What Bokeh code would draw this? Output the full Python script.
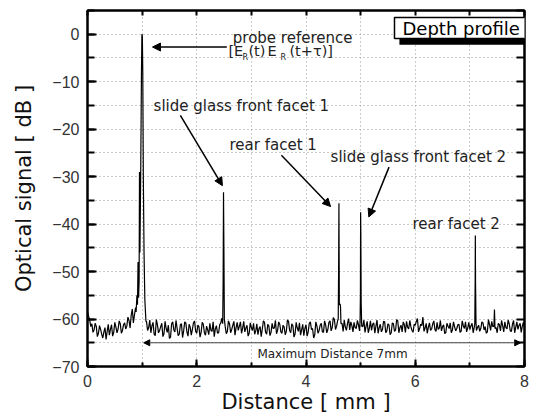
from bokeh.plotting import figure
from bokeh.models import (ColumnDataSource, Range1d, LinearAxis, SingleIntervalTicker,
                          Arrow, NormalHead, Label, CustomJSTickFormatter)
from bokeh.core.properties import value
from bokeh.embed import file_html
from bokeh.resources import INLINE

# ---------------- data ----------------
x_start, x_end = 0.0, 8.0
# baseline signal sampled every 0.04 mm from 0 to 8 mm (dB)
noise_db = [
    -58.5, -60.2, -61.0, -62.3, -61.5, -63.0, -62.2, -64.0, -61.8, -62.6,
    -63.4, -61.2, -62.8, -61.7, -62.1, -61.0, -62.4, -60.8, -61.5, -60.3,
    -59.2, -60.8, -57.6, -58.0, -59.0, -60.0, -61.0, -60.5, -61.8, -62.9,
    -60.7, -63.5, -61.2, -62.4, -60.9, -63.1, -62.0, -61.3, -63.8, -60.6,
    -62.7, -61.9, -63.2, -61.0, -62.5, -60.8, -63.6, -61.7, -62.2, -60.4,
    -63.0, -61.6, -62.8, -61.1, -63.4, -62.3, -60.9, -62.6, -63.7, -61.4,
    -62.9, -60.8, -60.2, -61.5, -62.6, -61.0, -62.2, -60.5, -61.8, -62.4,
    -60.6, -61.9, -62.7, -61.3, -63.0, -61.8, -60.9, -62.5, -63.3, -61.6,
    -62.1, -60.7, -63.2, -61.5, -62.8, -62.0, -60.3, -62.4, -61.1, -63.0,
    -61.7, -62.6, -60.5, -62.9, -61.4, -63.1, -61.9, -60.8, -62.3, -63.5,
    -61.2, -62.7, -60.6, -62.0, -63.3, -61.5, -62.4, -60.9, -62.8, -61.3,
    -62.2, -60.4, -61.8, -60.1, -61.5, -59.8, -61.0, -62.6, -61.7, -60.9,
    -62.3, -61.4, -60.7, -62.0, -61.2, -59.9, -61.6, -62.8, -60.5, -61.9,
    -62.4, -60.8, -61.5, -63.0, -61.1, -62.2, -60.6, -62.5, -61.3, -62.9,
    -61.0, -62.3, -60.4, -61.8, -62.7, -61.2, -60.5, -62.1, -61.6, -62.8,
    -61.3, -59.9, -62.0, -61.4, -62.6, -60.9, -61.7, -62.4, -61.0, -62.2,
    -60.7, -61.9, -62.5, -61.2, -62.8, -61.5, -60.8, -62.3, -61.6, -62.0,
    -61.1, -62.6, -61.4, -60.6, -61.9, -62.2, -60.9, -61.7, -62.4, -61.3,
    -62.0, -60.8, -61.6, -62.7, -61.2, -60.5, -62.3, -61.8, -60.9, -62.5,
    -61.4, -60.6, -62.1, -61.0, -62.6, -60.3, -61.7, -62.2, -60.9, -61.5,
    -61.8,
]
# baseline signal at the mid points (0.02 mm + k * 0.04 mm) (dB)
noise_db_mid = [
    -59.4, -61.6, -62.8, -60.9, -63.7, -61.4, -63.2, -62.7, -64.3, -61.1,
    -62.2, -63.6, -60.7, -62.9, -60.4, -63.0, -61.2, -62.1, -59.6, -61.9,
    -57.9, -59.1, -56.5, -57.0, -58.0, -59.0, -60.0, -62.4, -60.2, -61.4,
    -63.2, -60.1, -62.9, -61.6, -63.7, -60.5, -62.8, -64.1, -61.0, -62.3,
    -60.3, -63.5, -61.2, -63.9, -60.6, -62.7, -61.1, -63.4, -60.8, -62.6,
    -61.3, -63.8, -60.7, -62.9, -61.5, -63.3, -62.4, -60.6, -62.1, -63.0,
    -61.2, -59.8, -61.0, -63.1, -60.4, -62.9, -61.3, -63.4, -60.7, -61.5,
    -63.0, -60.5, -61.9, -63.6, -60.8, -62.4, -63.2, -61.0, -62.0, -63.7,
    -60.4, -62.8, -61.1, -63.5, -60.9, -61.9, -63.1, -60.6, -62.7, -61.3,
    -63.3, -60.2, -62.4, -61.0, -63.8, -60.7, -62.6, -63.4, -61.1, -62.0,
    -63.6, -60.9, -62.2, -64.0, -60.6, -63.0, -61.3, -62.7, -60.4, -62.9,
    -60.7, -62.5, -59.7, -62.2, -60.3, -62.8, -60.9, -60.2, -62.4, -59.9,
    -60.6, -62.7, -61.8, -60.3, -62.5, -61.0, -60.2, -61.5, -62.9, -60.4,
    -61.1, -63.0, -60.2, -61.8, -62.7, -60.5, -62.9, -61.0, -63.3, -60.8,
    -62.6, -60.1, -62.9, -61.3, -60.6, -62.8, -61.7, -60.3, -62.4, -61.1,
    -60.5, -62.7, -61.1, -59.6, -61.9, -63.0, -60.8, -62.1, -60.4, -62.6,
    -62.2, -60.3, -61.6, -63.1, -60.9, -62.0, -62.9, -60.6, -62.5, -61.2,
    -62.8, -60.4, -62.0, -62.7, -60.7, -61.4, -62.9, -60.5, -61.8, -62.6,
    -60.6, -62.3, -63.0, -60.1, -62.4, -61.6, -60.4, -62.9, -61.2, -60.3,
    -62.7, -61.8, -60.2, -62.5, -61.1, -62.9, -60.6, -61.3, -62.8, -60.7,
]
# reflection peaks (distance mm, dB)
peak_ref_x = [0.89, 0.905, 0.915, 0.925, 0.935, 0.945, 0.952, 0.96, 0.975, 0.988,
              0.996, 1.004, 1.012, 1.022, 1.035, 1.05, 1.07]
peak_ref_y = [-58.5, -55.0, -57.0, -48.0, -55.5, -52.0, -29.0, -46.0, -28.0, -8.0,
              0.0, -0.4, -8.0, -30.0, -46.0, -56.0, -60.5]
peak_front1_x = [2.475, 2.483, 2.49, 2.497, 2.505]
peak_front1_y = [-61.0, -52.0, -33.3, -45.0, -60.0]
peak_rear1_x = [4.59, 4.597, 4.603, 4.61, 4.625, 4.632, 4.64]
peak_rear1_y = [-60.0, -50.0, -35.6, -57.0, -56.8, -57.5, -61.0]
peak_front2_x = [4.99, 4.996, 5.0, 5.004, 5.01, 5.02]
peak_front2_y = [-60.5, -55.0, -37.5, -42.0, -56.5, -61.5]
peak_rear2_x = [7.09, 7.097, 7.10, 7.104, 7.112]
peak_rear2_y = [-61.0, -52.0, -42.4, -52.5, -60.8]
spike_x = [7.44, 7.45, 7.46]
spike_y = [-61.5, -58.0, -62.0]

x_ticks_major = 2
y_ticks_major = 10

# annotation texts
ann_text = ["probe reference", "slide glass front facet 1", "rear facet 1",
            "slide glass front facet 2", "rear facet 2"]
ann_x = [2.66, 1.21, 2.60, 4.45, 5.95]
ann_y = [-0.7, -15.2, -23.4, -25.9, -39.9]

# ---------------- build series ----------------
groups = [(peak_ref_x, peak_ref_y), (peak_front1_x, peak_front1_y),
          (peak_rear1_x, peak_rear1_y), (peak_front2_x, peak_front2_y),
          (peak_rear2_x, peak_rear2_y), (spike_x, spike_y)]
step = (x_end - x_start) / (len(noise_db) - 1)
base = [(x_start + i * step, v) for i, v in enumerate(noise_db)]
base += [(x_start + step / 2 + i * step, v) for i, v in enumerate(noise_db_mid)]
pts = [(xv, v) for xv, v in base
       if not any(min(gx) <= xv <= max(gx) for gx, _ in groups)]
for gx, gy in groups:
    pts.extend(zip(gx, gy))
pts.sort()
src = ColumnDataSource(dict(x=[q[0] for q in pts], y=[q[1] for q in pts]))

# ---------------- figure ----------------
p = figure(width=536, height=417, output_backend="svg", toolbar_location=None,
           x_range=Range1d(0, 8), y_range=Range1d(-70, 5),
           min_border_left=87, min_border_right=12, min_border_top=10, min_border_bottom=51,
           x_axis_label="Distance [ mm ]", y_axis_label="Optical signal [ dB ]")
p.background_fill_color = "white"
p.outline_line_color = "black"
p.outline_line_width = 2

fmt = CustomJSTickFormatter(code="return tick < 0 ? '\u2212' + Math.abs(tick) : '' + tick;")

xa = p.xaxis[0]
xa.ticker = SingleIntervalTicker(interval=x_ticks_major, num_minor_ticks=2)
ya = p.yaxis[0]
ya.ticker = SingleIntervalTicker(interval=y_ticks_major, num_minor_ticks=2)
ya.formatter = fmt
for ax in (xa, ya):
    ax.axis_line_width = 2
    ax.major_tick_line_width = 2
    ax.minor_tick_line_width = 2
    ax.major_tick_out = 0
    ax.minor_tick_out = 0
    ax.major_label_text_font = "Liberation Sans"
    ax.major_label_text_font_size = "16px"
    ax.major_label_text_color = "#333333"
    ax.axis_label_text_font = "DejaVu Sans"
    ax.axis_label_text_font_style = "normal"
    ax.axis_label_text_color = "#111111"
xa.major_tick_in = 7
xa.minor_tick_in = 4
xa.major_label_standoff = 8
xa.axis_label_standoff = 0
xa.axis_label_text_font_size = "21px"
ya.major_tick_in = 9
ya.minor_tick_in = 7
ya.major_label_standoff = 8
ya.axis_label_standoff = 13
ya.axis_label_text_font_size = "21px"

top = LinearAxis(ticker=SingleIntervalTicker(interval=1, num_minor_ticks=0))
right = LinearAxis(ticker=SingleIntervalTicker(interval=5, num_minor_ticks=0))
for ax, tin in ((top, 5), (right, 8)):
    ax.axis_line_width = 2
    ax.major_tick_line_width = 2
    ax.major_tick_in = tin
    ax.major_tick_out = 0
    ax.minor_tick_line_color = None
    ax.major_label_text_color = None
    ax.major_label_standoff = 0
p.add_layout(top, "above")
p.add_layout(right, "right")

p.xgrid.ticker = SingleIntervalTicker(interval=1)
p.ygrid.ticker = SingleIntervalTicker(interval=5)
for g in (p.xgrid[0], p.ygrid[0]):
    g.grid_line_color = "#999999"
    g.grid_line_dash = "1 3"
    g.grid_line_width = 1

p.line("x", "y", source=src, line_color="black", line_width=1.2)

# annotation texts
p.text(x=ann_x, y=ann_y, text=ann_text, text_font=value("DejaVu Sans"),
       text_font_size="15px", text_color="#222222", text_baseline="middle", text_align="left")
# [E_R(t)E_R(t+tau)]
p.text(x=[2.58] * 4, y=[-3.6] * 4, text=["[E", "(t)", "E", "(t+\u03c4)]"],
       x_offset=[0, 20, 39, 61], text_font=value("DejaVu Sans"), text_font_size="14.5px",
       text_color="#222222", text_baseline="middle", text_align="left")
p.text(x=[2.58] * 2, y=[-4.9] * 2, text=["R", "R"], x_offset=[14, 52],
       text_font=value("DejaVu Sans"), text_font_size="8px",
       text_color="#222222", text_baseline="middle", text_align="left")
p.text(x=[3.11], y=[-67.4], text=["Maximum Distance 7mm"], text_font=value("DejaVu Sans"),
       text_font_size="12px", text_color="#222222", text_baseline="middle", text_align="left")

# arrows
arrows = [((2.55, -2.7), (1.19, -2.7)),
          ((1.70, -17.1), (2.47, -31.9)),
          ((3.55, -25.5), (4.45, -36.3)),
          ((5.52, -28.0), (5.15, -38.5))]
for (xs, ys), (xe, ye) in arrows:
    p.add_layout(Arrow(end=NormalHead(size=8, fill_color="black", line_color="black"),
                       x_start=xs, y_start=ys, x_end=xe, y_end=ye,
                       line_color="black", line_width=1.5))
p.add_layout(Arrow(start=NormalHead(size=6, fill_color="black", line_color="black"),
                   end=NormalHead(size=6, fill_color="black", line_color="black"),
                   x_start=1.03, y_start=-65, x_end=7.93, y_end=-65,
                   line_color="#444444", line_width=1))

# title box with a drop shadow below / right of it
p.quad(left=[5.71], right=[8.0], top=[2.1], bottom=[-2.2],
       fill_color="black", line_color=None)
box = Label(x=5.62, y=1.3, text="Depth profile",
            text_font="DejaVu Sans", text_font_size="18px", text_color="black",
            text_baseline="middle", background_fill_color="white",
            border_line_color="black", border_line_width=1.5, padding=(8, 0))
p.add_layout(box)

open("out.html", "w").write(file_html(p, INLINE))
